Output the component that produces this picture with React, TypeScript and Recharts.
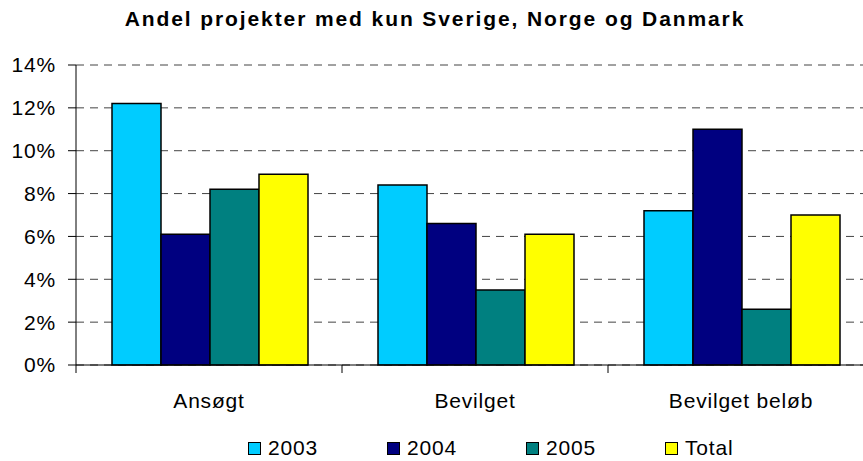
import { Bar, BarChart, CartesianGrid, Legend, XAxis, YAxis } from 'recharts'

const categories = ['Ansøgt', 'Bevilget', 'Bevilget beløb']
const y2003 = [12.2, 8.4, 7.2]
const y2004 = [6.1, 6.6, 11.0]
const y2005 = [8.2, 3.5, 2.6]
const yTotal = [8.9, 6.1, 7.0]
const yTicks = [0, 2, 4, 6, 8, 10, 12, 14]

const series = [
  { key: 'y2003', name: '2003', color: '#00CCFF' },
  { key: 'y2004', name: '2004', color: '#000080' },
  { key: 'y2005', name: '2005', color: '#008080' },
  { key: 'yTotal', name: 'Total', color: '#FFFF00' },
]

const data = categories.map((c, i) => ({
  name: c,
  y2003: y2003[i],
  y2004: y2004[i],
  y2005: y2005[i],
  yTotal: yTotal[i],
}))

const FONT = 'Arial, "Liberation Sans", Helvetica, sans-serif'
const W = 880
const H = 461
const BAND = (W - 6 - 76) / categories.length

// category label plus the Excel-style tick marks between the groups
function CategoryTick(props: any) {
  const { x, y, payload, index } = props
  const top = y - 8
  const last = index === categories.length - 1
  return (
    <g>
      <line x1={x - BAND / 2} x2={x - BAND / 2} y1={top} y2={y} stroke="#000" />
      {last && <line x1={x + BAND / 2} x2={x + BAND / 2} y1={top} y2={y} stroke="#000" />}
      <text
        x={x}
        y={y + 35}
        textAnchor="middle"
        fontSize={21}
        fontFamily={FONT}
        fill="#000"
        style={{ letterSpacing: '0.8px' }}
      >
        {payload.value}
      </text>
    </g>
  )
}

function LegendBox() {
  return (
    <div style={{ display: 'flex', fontFamily: FONT, fontSize: 21, letterSpacing: '0.8px', color: '#000' }}>
      {series.map((s) => (
        <div key={s.key} style={{ width: 139, display: 'flex', alignItems: 'center' }}>
          <span
            style={{
              width: 11,
              height: 11,
              background: s.color,
              border: '1px solid #000',
              marginRight: 7,
              display: 'inline-block',
            }}
          />
          <span>{s.name}</span>
        </div>
      ))}
    </div>
  )
}

export default function App() {
  return (
    <div
      style={{
        position: 'absolute',
        left: 0,
        top: 0,
        width: 863,
        height: H,
        overflow: 'hidden',
        background: '#fff',
      }}
    >
      <div
        style={{
          position: 'absolute',
          top: 6,
          left: 0,
          width: 870,
          textAlign: 'center',
          fontFamily: FONT,
          fontWeight: 'bold',
          fontSize: 21,
          letterSpacing: '1.9px',
          lineHeight: '26px',
        }}
      >
        Andel projekter med kun Sverige, Norge og Danmark
      </div>
      <BarChart
        width={W}
        height={H}
        data={data}
        margin={{ top: 65, right: 6, bottom: 0, left: 0 }}
        barCategoryGap={36}
        barGap={0}
      >
        <CartesianGrid vertical={false} stroke="#444" strokeDasharray="8 6" />
        <XAxis
          dataKey="name"
          height={96}
          axisLine={{ stroke: '#000' }}
          tickLine={false}
          tickSize={8}
          tickMargin={0}
          tick={<CategoryTick />}
          interval={0}
        />
        <YAxis
          width={76}
          domain={[0, 14]}
          ticks={yTicks}
          interval={0}
          tickFormatter={(v: number) => `${v}%`}
          axisLine={{ stroke: '#000' }}
          tickLine={{ stroke: '#000' }}
          tickSize={8}
          tickMargin={12}
          tick={{ fontSize: 21, fontFamily: FONT, fill: '#000', style: { letterSpacing: '0.8px' } }}
        />
        <Legend
          layout="horizontal"
          verticalAlign="middle"
          align="center"
          content={<LegendBox />}
          wrapperStyle={{ top: 436, left: 248, width: 600, height: 26 }}
        />
        {series.map((s) => (
          <Bar
            key={s.key}
            dataKey={s.key}
            name={s.name}
            fill={s.color}
            stroke="#000"
            strokeWidth={1.5}
            isAnimationActive={false}
          />
        ))}
      </BarChart>
    </div>
  )
}
